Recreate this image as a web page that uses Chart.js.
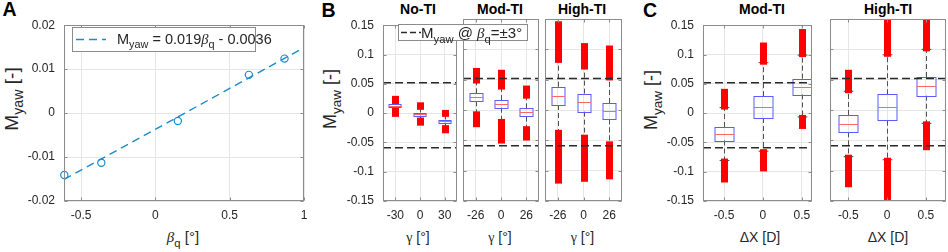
<!DOCTYPE html>
<html>
<head>
<meta charset="utf-8">
<script src="https://cdn.jsdelivr.net/npm/chart.js@4.4.1/dist/chart.umd.min.js"></script>
<style>
  body { margin: 0; background: #fff; font-family: 'Liberation Sans', Arial, sans-serif; }
  #fig { position: relative; width: 948px; height: 252px; overflow: hidden; color: #262626; }
  #fig canvas { position: absolute; }
  .t { position: absolute; white-space: nowrap; transform: translate(-50%, -50%); line-height: 1; }
  .ttl { font-weight: bold; font-size: 14px; color: #000; }
  .lett { font-weight: bold; font-size: 19.5px; color: #000; }
  .ylab { font-size: 18px; transform: translate(-50%, -50%) rotate(-90deg); }
  .xlab { font-size: 14px; }
  sub { font-size: 75%; vertical-align: -0.4em; line-height: 0; }
  .gr { font-family: 'Liberation Serif', 'DejaVu Serif', serif; }
  .legend { position: absolute; background: #fff; border: 1px solid #8c8c8c; box-sizing: border-box;
            white-space: nowrap; color: #262626; z-index: 5; }
  .legend svg { position: absolute; }
  .legend span { position: absolute; line-height: 1; }
</style>
</head>
<body>
<div id="fig">
  <div class="t lett" style="left:9.5px;top:9.5px">A</div>
  <div class="t lett" style="left:328.5px;top:10.5px">B</div>
  <div class="t lett" style="left:650px;top:10.5px">C</div>

  <div class="t ttl" style="left:418px;top:8.5px">No-TI</div>
  <div class="t ttl" style="left:500px;top:8.5px">Mod-TI</div>
  <div class="t ttl" style="left:582px;top:8.5px">High-TI</div>
  <div class="t ttl" style="left:762px;top:8.5px">Mod-TI</div>
  <div class="t ttl" style="left:888px;top:8.5px">High-TI</div>

  <div class="t ylab" style="left:10.5px;top:99px;font-size:19px">M<sub>yaw</sub> [-]</div>
  <div class="t ylab" style="left:330px;top:99px">M<sub>yaw</sub> [-]</div>
  <div class="t ylab" style="left:650.5px;top:100px">M<sub>yaw</sub> [-]</div>

  <div class="t xlab" style="left:183px;top:237px;font-size:15px"><i class="gr">β</i><sub>q</sub> [°]</div>
  <div class="t xlab" style="left:418px;top:237px"><span class="gr">γ</span> [°]</div>
  <div class="t xlab" style="left:500px;top:237px"><span class="gr">γ</span> [°]</div>
  <div class="t xlab" style="left:582.5px;top:237px"><span class="gr">γ</span> [°]</div>
  <div class="t xlab" style="left:760px;top:237px">ΔX [D]</div>
  <div class="t xlab" style="left:888px;top:237px">ΔX [D]</div>

  <div class="legend" style="left:72px;top:27px;width:184px;height:25px;font-size:14.5px">
    <svg style="left:3px;top:10px" width="30" height="3"><line x1="0" y1="1.5" x2="30" y2="1.5" stroke="#1a8ccc" stroke-width="1.4" stroke-dasharray="8 5"/></svg>
    <span style="left:44px;top:4px">M<sub>yaw</sub> = 0.019<i class="gr">β</i><sub>q</sub> - 0.0036</span>
  </div>
  <div class="legend" style="left:398px;top:24px;width:130px;height:17px;font-size:15px">
    <svg style="left:2px;top:6px" width="20" height="3"><line x1="0" y1="1.5" x2="20" y2="1.5" stroke="#2a2a2a" stroke-width="1.5" stroke-dasharray="6 3"/></svg>
    <span style="left:22px;top:0px">M<sub>yaw</sub> @ <i class="gr">β</i><sub>q</sub>=±3°</span>
  </div>
</div>
<script>
// ---- panel A: quasi-steady yaw moment vs beta_q
const betaQ = [-0.613, -0.364, 0.151, 0.629, 0.869];
const mYaw = [-0.0141, -0.0113, -0.0018, 0.0087, 0.0124];
const fitX = [-0.615, 1.0];
const fitY = [-0.0151, 0.0149];
const aTicks = [-0.5, 0, 0.5, 1];

// ---- dashed reference lines, M_yaw @ beta_q = +-3 deg
const thresholds = [0.052, -0.059];

// ---- panel B: yaw angle gamma, categories per inflow case
const gammaNoTI = ['-30', '0', '30'];
const gammaTI = ['-26', '0', '26'];

const noTI_q1 = [0.0099, -0.0044, -0.0165];
const noTI_med = [0.0127, -0.0016, -0.0137];
const noTI_q3 = [0.0153, 0.0010, -0.0110];
const noTI_wLo = [0.006, -0.011, -0.024];
const noTI_wHi = [0.019, 0.009, -0.003];
const noTI_oMin = [-0.003, -0.018, -0.031];
const noTI_oMax = [0.026, 0.015, 0.002];

const modG_q1 = [0.0143, 0.0038, -0.0110];
const modG_med = [0.0210, 0.0104, -0.0038];
const modG_q3 = [0.0275, 0.0165, 0.0028];
const modG_wLo = [-0.0055, -0.018, -0.030];
const modG_wHi = [0.047, 0.037, 0.022];
const modG_oMin = [-0.025, -0.052, -0.047];
const modG_oMax = [0.066, 0.063, 0.037];

const highG_q1 = [0.0082, -0.0027, -0.0154];
const highG_med = [0.0230, 0.0126, -0.0016];
const highG_q3 = [0.0384, 0.0270, 0.0115];
const highG_wLo = [-0.036, -0.044, -0.055];
const highG_wHi = [0.081, 0.070, 0.052];
const highG_oMin = [-0.118, -0.115, -0.111];
const highG_oMax = [0.143, 0.107, 0.103];

// ---- panel C: streamwise offset dX [D]
const dX = [-0.5, 0, 0.5];
const dXLabels = ['-0.5', '0', '0.5'];

const modX_q1 = [-0.0467, -0.0082, 0.0318];
const modX_med = [-0.0350, 0.0104, 0.0445];
const modX_q3 = [-0.0236, 0.0290, 0.0588];
const modX_wLo = [-0.081, -0.065, -0.0066];
const modX_wHi = [0.0094, 0.086, 0.099];
const modX_oMin = [-0.115, -0.096, -0.0236];
const modX_oMax = [0.038, 0.117, 0.140];

const highX_q1 = [-0.0368, -0.0176, 0.0236];
const highX_med = [-0.0225, 0.0050, 0.0390];
const highX_q3 = [-0.0082, 0.0260, 0.0544];
const highX_wLo = [-0.077, -0.082, -0.022];
const highX_wHi = [0.031, 0.091, 0.100];
const highX_oMin = [-0.124, -0.145, -0.063];
const highX_oMax = [0.063, 0.150, 0.150];

const TOP = 19, BOTTOM = 201, PAD_T = 10, PAD_B = 26, PAD_R = 12;
const tickFont = { family: "'Liberation Sans', Arial, sans-serif", size: 12 };
const GRID = '#e6e6e6', FRAME = '#8c8c8c', INK = '#262626', BLUE = '#1a8ccc';
const fmt = v => String(+(+v).toFixed(4));

// frame round the axes + MATLAB style inner ticks
const frame = {
    id: 'frame',
    afterDraw(chart) {
        const { ctx, chartArea: a, scales } = chart;
        const L = Math.round(a.left) + 0.5, R = Math.round(a.right) - 0.5;
        const T = Math.round(a.top) + 0.5, B = Math.round(a.bottom) - 0.5;
        ctx.save();
        ctx.strokeStyle = FRAME;
        ctx.lineWidth = 1;
        ctx.strokeRect(L, T, R - L, B - T);
        ctx.beginPath();
        scales.x.ticks.forEach(t => {
            const px = Math.round(scales.x.getPixelForValue(t.value)) + 0.5;
            ctx.moveTo(px, B); ctx.lineTo(px, B - 3);
            ctx.moveTo(px, T); ctx.lineTo(px, T + 3);
        });
        scales.y.ticks.forEach(t => {
            const py = Math.round(scales.y.getPixelForValue(t.value)) + 0.5;
            ctx.moveTo(L, py); ctx.lineTo(L + 3, py);
            ctx.moveTo(R, py); ctx.lineTo(R - 3, py);
        });
        ctx.stroke();
        ctx.restore();
    }
};

// box plots (box, median, dashed whiskers, outlier bands) drawn via the scales
const boxPlot = {
    id: 'boxPlot',
    beforeDatasetsDraw(chart, args, o) {
        if (!o || !o.x) return;
        const { ctx, chartArea: a, scales: { x, y } } = chart;
        const step = Math.abs(x.getPixelForValue(o.x[1]) - x.getPixelForValue(o.x[0]));
        const half = step * o.width / 2;
        ctx.save();
        ctx.beginPath();
        ctx.rect(a.left, a.top, a.width, a.height);
        ctx.clip();
        o.x.forEach((xv, i) => {
            const px = Math.round(x.getPixelForValue(xv)) + 0.5;
            const Y = v => y.getPixelForValue(v);
            // whiskers
            ctx.strokeStyle = '#505050';
            ctx.lineWidth = 1;
            ctx.setLineDash([5, 3]);
            ctx.beginPath();
            ctx.moveTo(px, Y(o.q3[i])); ctx.lineTo(px, Y(o.wHi[i]));
            ctx.moveTo(px, Y(o.q1[i])); ctx.lineTo(px, Y(o.wLo[i]));
            ctx.stroke();
            ctx.setLineDash([]);
            // caps
            ctx.strokeStyle = '#404040';
            ctx.beginPath();
            ctx.moveTo(px - half / 2, Y(o.wHi[i])); ctx.lineTo(px + half / 2, Y(o.wHi[i]));
            ctx.moveTo(px - half / 2, Y(o.wLo[i])); ctx.lineTo(px + half / 2, Y(o.wLo[i]));
            ctx.stroke();
            // outliers (dense '+' markers -> solid band)
            ctx.fillStyle = '#ff0000';
            const band = (lo, hi) => {
                const y1 = Y(hi) - 2, y2 = Y(lo) + 2;
                ctx.fillRect(px - 3.5, y1, 7, y2 - y1);
            };
            band(o.wHi[i], o.oMax[i]);
            band(o.oMin[i], o.wLo[i]);
            // box
            const yt = Y(o.q3[i]), yb = Y(o.q1[i]);
            ctx.strokeStyle = '#5a5aff';
            ctx.lineWidth = 1;
            ctx.strokeRect(Math.round(px - half), Math.round(yt) + 0.5, Math.round(2 * half), Math.round(yb - yt));
            // median
            ctx.strokeStyle = '#ff6666';
            ctx.beginPath();
            const ym = Math.round(Y(o.med[i])) + 0.5;
            ctx.moveTo(Math.round(px - half), ym); ctx.lineTo(Math.round(px + half), ym);
            ctx.stroke();
        });
        ctx.restore();
    }
};

function addCanvas(L, R, padL) {
    const c = document.createElement('canvas');
    c.width = (R - L) + padL + PAD_R;
    c.height = (BOTTOM - TOP) + PAD_T + PAD_B;
    c.style.left = (L - padL) + 'px';
    c.style.top = (TOP - PAD_T) + 'px';
    document.getElementById('fig').appendChild(c);
    return c;
}

function xScale(min, max, vals, labels) {
    return {
        type: 'linear', min, max,
        afterBuildTicks: s => { s.ticks = vals.map(v => ({ value: v })); },
        ticks: { autoSkip: false, maxRotation: 0, padding: 7, color: INK, font: tickFont,
                 callback: (v, i) => labels[i] },
        grid: { color: GRID, drawTicks: false },
        border: { display: false },
        afterFit: s => { s.height = PAD_B; }
    };
}

function yScale(min, max, step, padL, showLabels) {
    return {
        type: 'linear', min, max,
        ticks: { display: showLabels, stepSize: step, padding: 9, color: INK, font: tickFont,
                 callback: v => fmt(v) },
        grid: { color: GRID, drawTicks: false },
        border: { display: false },
        afterFit: s => { s.width = padL; }
    };
}

function baseOptions(scales, box) {
    return {
        responsive: false,
        animation: false,
        events: [],
        layout: { padding: { top: PAD_T, right: PAD_R, left: 0, bottom: 0 } },
        plugins: { legend: { display: false }, tooltip: { enabled: false }, boxPlot: box },
        scales
    };
}

function thresholdSets(xmin, xmax) {
    return thresholds.map(t => ({
        data: [{ x: xmin, y: t }, { x: xmax, y: t }],
        borderColor: '#2a2a2a', borderWidth: 1.5, borderDash: [8, 4],
        pointRadius: 0, fill: false
    }));
}

// panel A
new Chart(addCanvas(64, 304, 62), {
    type: 'line',
    plugins: [frame],
    data: {
        datasets: [
            { data: fitX.map((x, i) => ({ x, y: fitY[i] })), borderColor: BLUE, borderWidth: 1.4,
              borderDash: [8, 5], pointRadius: 0, fill: false },
            { data: betaQ.map((x, i) => ({ x, y: mYaw[i] })), showLine: false, clip: 8,
              pointRadius: 3.6, pointBorderWidth: 1.2, pointBorderColor: BLUE,
              pointBackgroundColor: 'rgba(0,0,0,0)' }
        ]
    },
    options: baseOptions({
        x: xScale(fitX[0], fitX[1], aTicks, aTicks.map(fmt)),
        y: yScale(-0.02, 0.02, 0.01, 62, true)
    })
});

// panels B and C
const boxPanels = [
    { L: 383, R: 457, padL: 62, y: true, x: [1, 2, 3], min: 0.5, max: 3.5, labels: gammaNoTI,
      s: [noTI_q1, noTI_med, noTI_q3, noTI_wLo, noTI_wHi, noTI_oMin, noTI_oMax] },
    { L: 463, R: 539, padL: 14, y: false, x: [1, 2, 3], min: 0.5, max: 3.5, labels: gammaTI,
      s: [modG_q1, modG_med, modG_q3, modG_wLo, modG_wHi, modG_oMin, modG_oMax] },
    { L: 545, R: 622, padL: 14, y: false, x: [1, 2, 3], min: 0.5, max: 3.5, labels: gammaTI,
      s: [highG_q1, highG_med, highG_q3, highG_wLo, highG_wHi, highG_oMin, highG_oMax] },
    { L: 703, R: 812, padL: 62, y: true, x: dX, min: -0.77, max: 0.63, labels: dXLabels,
      s: [modX_q1, modX_med, modX_q3, modX_wLo, modX_wHi, modX_oMin, modX_oMax] },
    { L: 830, R: 946, padL: 14, y: false, x: dX, min: -0.735, max: 0.76, labels: dXLabels,
      s: [highX_q1, highX_med, highX_q3, highX_wLo, highX_wHi, highX_oMin, highX_oMax] }
];

boxPanels.forEach(p => {
    const [q1, med, q3, wLo, wHi, oMin, oMax] = p.s;
    new Chart(addCanvas(p.L, p.R, p.padL), {
        type: 'line',
        plugins: [boxPlot, frame],
        data: { datasets: thresholdSets(p.min, p.max) },
        options: baseOptions({
            x: xScale(p.min, p.max, p.x, p.labels),
            y: yScale(-0.15, 0.15, 0.05, p.padL, p.y)
        }, { x: p.x, q1, med, q3, wLo, wHi, oMin, oMax, width: 0.5 })
    });
});
</script>
</body>
</html>
